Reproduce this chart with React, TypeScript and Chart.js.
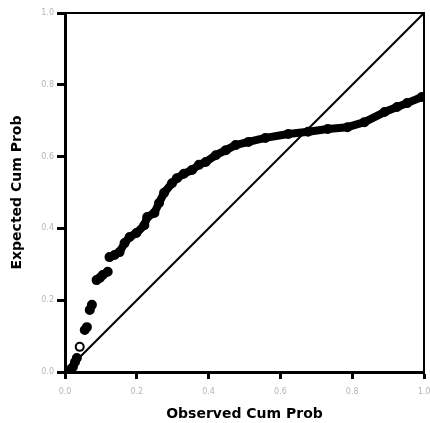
import React, { useEffect, useRef } from "react";
import { Chart, registerables } from "chart.js";

Chart.register(...registerables);

// Observed cumulative probability (x) and expected cumulative probability (y)
const observedCum: number[] = [
  0.014, 0.022, 0.028, 0.033, 0.041, 0.055, 0.061, 0.069, 0.075, 0.088,
  0.097, 0.105, 0.119, 0.124, 0.138, 0.152, 0.166, 0.18, 0.199, 0.221,
  0.229, 0.249, 0.262, 0.276, 0.298, 0.312, 0.331, 0.354, 0.373, 0.392,
  0.42, 0.448, 0.475, 0.511, 0.558, 0.622, 0.677, 0.732, 0.787, 0.834,
  0.89, 0.925, 0.953, 0.994,
];
const expectedCum: number[] = [
  0.006, 0.014, 0.028, 0.039, 0.07, 0.117, 0.125, 0.173, 0.187, 0.256,
  0.262, 0.27, 0.279, 0.32, 0.326, 0.334, 0.359, 0.376, 0.387, 0.409,
  0.432, 0.443, 0.471, 0.499, 0.526, 0.54, 0.552, 0.563, 0.577, 0.585,
  0.604, 0.618, 0.632, 0.641, 0.652, 0.663, 0.669, 0.677, 0.682, 0.696,
  0.724, 0.738, 0.749, 0.766,
];
// Reference diagonal
const diagX: number[] = [0, 1];
const diagY: number[] = [0, 1];
const tickValues: number[] = [0, 0.2, 0.4, 0.6, 0.8, 1.0];

const framePlugin = {
  id: "frame",
  afterDraw(chart: any) {
    const { ctx, chartArea } = chart;
    ctx.save();
    ctx.strokeStyle = "#000";
    ctx.lineWidth = 2;
    ctx.beginPath();
    ctx.moveTo(chartArea.left, chartArea.top);
    ctx.lineTo(chartArea.right, chartArea.top);
    ctx.lineTo(chartArea.right, chartArea.bottom);
    ctx.stroke();
    ctx.restore();
  },
};

export default function App() {
  const ref = useRef<HTMLCanvasElement | null>(null);

  useEffect(() => {
    if (!ref.current) return;
    const points = observedCum.map((x, i) => ({ x, y: expectedCum[i] }));
    const diag = diagX.map((x, i) => ({ x, y: diagY[i] }));
    const chart = new Chart(ref.current, {
      type: "scatter",
      data: {
        datasets: [
          {
            data: diag,
            showLine: true,
            borderColor: "#000",
            borderWidth: 2,
            pointRadius: 0,
          },
          {
            data: points,
            showLine: true,
            borderColor: "#000",
            borderWidth: 8,
            borderCapStyle: "round",
            borderJoinStyle: "round",
            segment: {
              borderColor: (c: any) =>
                Math.abs(c.p1.y - c.p0.y) > 10.5 ? "rgba(0,0,0,0)" : "#000",
            },
            pointRadius: 4,
            pointBorderWidth: 2,
            pointBorderColor: "#000",
            pointBackgroundColor: "rgba(255,255,255,0)",
          },
        ],
      },
      options: {
        responsive: false,
        animation: false,
        layout: { padding: { left: 0, right: 1, top: 13, bottom: 0 } },
        plugins: { legend: { display: false }, tooltip: { enabled: false } },
        scales: {
          x: {
            type: "linear",
            min: 0,
            max: 1,
            afterFit: (s: any) => {
              s.height = 51;
              s.paddingLeft = 0;
              s.paddingRight = 0;
            },
            afterBuildTicks: (s: any) => {
              s.ticks = tickValues.map((v) => ({ value: v }));
            },
            grid: {
              drawOnChartArea: false,
              drawTicks: true,
              tickLength: 7,
              tickWidth: 3,
              tickColor: "#000",
            },
            border: { display: true, color: "#000", width: 3 },
            ticks: {
              color: "#b5b5b5",
              font: { size: 8, family: "DejaVu Sans" },
              padding: 8,
              maxRotation: 0,
              callback: (v: any) => Number(v).toFixed(1),
            },
            title: {
              display: true,
              text: "Observed Cum Prob",
              color: "#000",
              font: { size: 14, weight: "bold", family: "DejaVu Sans" },
              padding: { top: 1, bottom: 0 },
            },
          },
          y: {
            type: "linear",
            min: 0,
            max: 1,
            afterFit: (s: any) => {
              s.width = 65;
              s.paddingTop = 0;
              s.paddingBottom = 0;
            },
            afterBuildTicks: (s: any) => {
              s.ticks = tickValues.map((v) => ({ value: v }));
            },
            grid: {
              drawOnChartArea: false,
              drawTicks: true,
              tickLength: 8,
              tickWidth: 3,
              tickColor: "#000",
            },
            border: { display: true, color: "#000", width: 3 },
            ticks: {
              color: "#b5b5b5",
              font: { size: 8, family: "DejaVu Sans" },
              padding: 3,
              callback: (v: any) => Number(v).toFixed(1),
            },
            title: {
              display: true,
              text: "Expected Cum Prob",
              color: "#000",
              font: { size: 14, weight: "bold", family: "DejaVu Sans" },
              padding: { top: 9, bottom: 0 },
            },
          },
        },
      },
      plugins: [framePlugin],
    });
    return () => chart.destroy();
  }, []);

  return (
    <div style={{ position: "absolute", left: 0, top: 0, width: 430, height: 423, background: "#fff" }}>
      <canvas ref={ref} width={430} height={423} style={{ width: 430, height: 423 }} />
    </div>
  );
}
